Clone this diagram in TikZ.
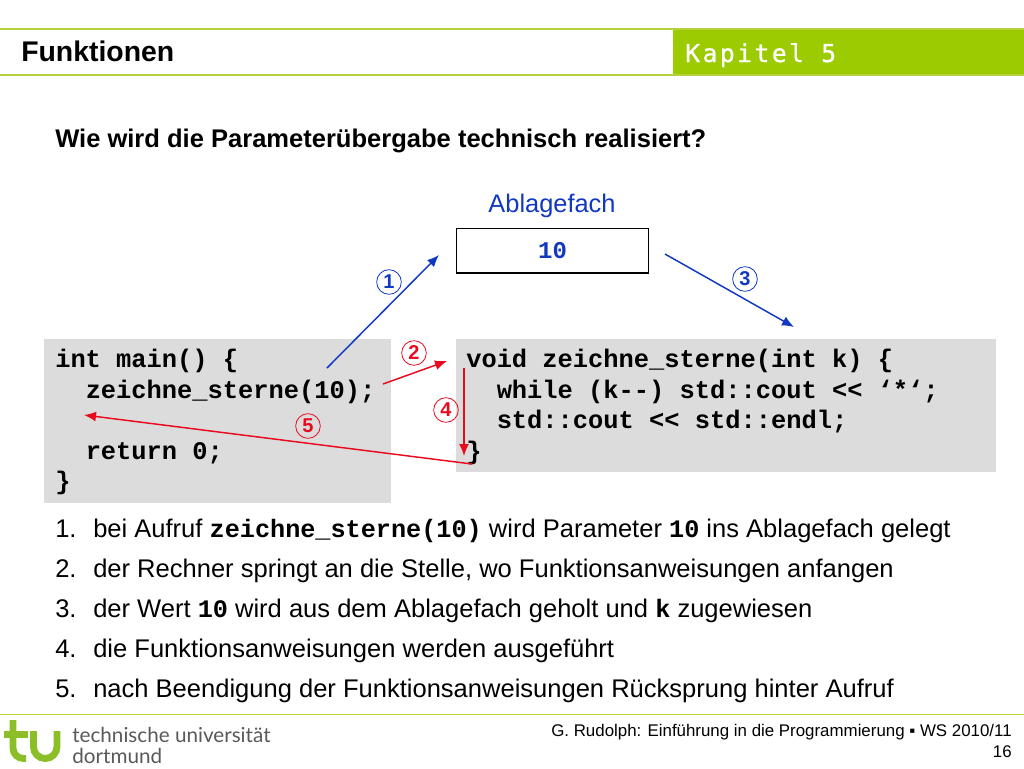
\documentclass[tikz,border=0pt]{standalone}
\usepackage{fontspec}
\usetikzlibrary{arrows.meta}
\setmainfont{Liberation Sans}
\newfontfamily\codefont{Liberation Mono}[BoldFont={Liberation Mono Bold}]
\newfontfamily\kapfont{DejaVu Sans Mono}[LetterSpace=10,FakeBold=0.8]
\newfontfamily\tufont{Lato}
\definecolor{tugreen}{HTML}{9BCB00}
\definecolor{linegreen}{HTML}{B4D23C}
\definecolor{logogreen}{HTML}{8CBE28}
\definecolor{codegray}{HTML}{DCDCDC}
\definecolor{arrowblue}{HTML}{1038C0}
\definecolor{arrowred}{HTML}{EA0A20}
\newcommand{\inlinecode}[1]{{\codefont\bfseries\fontsize{18.9}{20}\selectfont #1}}
\tikzset{
    codebox/.style={fill=codegray, anchor=north west, inner sep=0pt, outer sep=0pt},
    codeline/.style={anchor=base west, inner sep=0pt, font=\codefont\bfseries\fontsize{19.05}{23}\selectfont},
    listtext/.style={anchor=base west, inner sep=0pt, font=\fontsize{19.15}{22}\selectfont},
    circnum/.style={circle, draw, line width=0.6pt, inner sep=0pt, minimum size=18.5pt,
        font=\bfseries\fontsize{15}{15}\selectfont},
    bluearrow/.style={-{Latex[length=9pt,width=7.5pt]}, arrowblue, line width=1.1pt},
    redarrow/.style={-{Latex[length=9pt,width=7.5pt]}, arrowred, line width=1.1pt},
    tustroke/.style={draw=logogreen, line width=5.2pt}
}
\begin{document}
\begin{tikzpicture}[x=0.75pt,y=-0.75pt]
    \useasboundingbox (0,0) rectangle (1024,768);

    % header
    \fill[tugreen] (673,29) rectangle (1024,75);
    \draw[linegreen, line width=1.3pt] (0,29) -- (1024,29);
    \draw[linegreen, line width=1.3pt] (0,75) -- (1024,75);
    \node[anchor=base west, inner sep=0pt, font=\bfseries\fontsize{21.3}{24}\selectfont] (title) at (21,61) {Funktionen};
    \node[anchor=base west, inner sep=0pt, text=white, font=\kapfont\fontsize{18.5}{22}\selectfont] (chapter) at (685,62) {Kapitel 5};

    \node[anchor=base west, inner sep=0pt, font=\bfseries\fontsize{19.15}{21}\selectfont] (question) at (55,147) {Wie wird die Parameterübergabe technisch realisiert?};

    % storage box
    \node[anchor=base, inner sep=0pt, text=arrowblue, font=\fontsize{19.05}{22}\selectfont] (fachlabel) at (552,212) {Ablagefach};
    \node[draw, line width=1pt, minimum width=144pt, minimum height=33.5pt, inner sep=0pt, text=arrowblue,
        font=\codefont\bfseries\fontsize{18}{20}\selectfont] (fach) at (552.5,250.5) {10};

    % code
    \node[codebox, minimum width=260.25pt, minimum height=123pt] (mainbox) at (44,339) {};
    \node[codebox, minimum width=405pt, minimum height=100pt] (funcbox) at (456,339) {};
    \foreach \y/\txt [count=\i] in {367/{int main() \{}, 398/{\ \ zeichne\_sterne(10);}, 459/{\ \ return 0;}, 489/{\}}}
        \node[codeline] (mainline\i) at (55,\y) {\txt};
    \foreach \y/\txt [count=\i] in {367/{void zeichne\_sterne(int k) \{}, 398/{\ \ while (k--) std::cout << ‘*‘;}, 428/{\ \ std::cout << std::endl;}, 459/{\}}}
        \node[codeline] (funcline\i) at (466,\y) {\txt};

    % arrows
    \coordinate (a1s) at (327,368);
    \coordinate (a1e) at (439,255);
    \coordinate (a2s) at (383,384);
    \coordinate (a2e) at (447,361);
    \coordinate (a3s) at (665,254);
    \coordinate (a3e) at (794,327);
    \coordinate (a4s) at (464,368);
    \coordinate (a4e) at (464,456);
    \coordinate (a5s) at (472,464);
    \coordinate (a5e) at (84,415);
    \draw[bluearrow] (a1s) -- (a1e);
    \draw[redarrow] (a2s) -- (a2e);
    \draw[bluearrow] (a3s) -- (a3e);
    \draw[redarrow] (a4s) -- (a4e);
    \draw[redarrow] (a5s) -- (a5e);

    \node[circnum, arrowblue] (n1) at (389,282) {1};
    \node[circnum, arrowred] (n2) at (414,353) {2};
    \node[circnum, arrowblue] (n3) at (745,279) {3};
    \node[circnum, arrowred] (n4) at (446,410) {4};
    \node[circnum, arrowred] (n5) at (308,426) {5};

    % list
    \foreach \y/\txt [count=\i] in {
        537/{bei Aufruf \inlinecode{zeichne\_sterne(10)} wird Parameter \inlinecode{10} ins Ablagefach gelegt},
        577/{der Rechner springt an die Stelle, wo Funktionsanweisungen anfangen},
        617/{der Wert \inlinecode{10} wird aus dem Ablagefach geholt und \inlinecode{k} zugewiesen},
        657/{die Funktionsanweisungen werden ausgeführt},
        697/{nach Beendigung der Funktionsanweisungen Rücksprung hinter Aufruf}} {
        \node[listtext] (num\i) at (55,\y) {\i.};
        \node[listtext] (item\i) at (93,\y) {\txt};
    }

    % footer
    \draw[linegreen, line width=1.3pt] (0,714.5) -- (1024,714.5);
    \draw[tustroke] (4,734.5) -- (28,734.5);
    \draw[tustroke] (13,720) -- (13,748) arc[start angle=180, end angle=90, radius=10.5] -- (26,758.5);
    \draw[tustroke] (33.5,731) -- (33.5,746.75) arc[start angle=180, end angle=0, radius=11.75] -- (57,731);
    \node[anchor=base west, inner sep=0pt, text=black!65, font=\tufont\fontsize{15.5}{17}\selectfont] (tuname) at (72,742) {technische universität};
    \node[anchor=base west, inner sep=0pt, text=black!65, font=\tufont\fontsize{15.5}{17}\selectfont] (tucity) at (72,763) {dortmund};
    \node[anchor=base east, inner sep=0pt, font=\fontsize{12.66}{14}\selectfont] (footer) at (1012,736) {G. Rudolph: Einführung in die Programmierung ▪ WS 2010/11};
    \node[anchor=base east, inner sep=0pt, font=\fontsize{12.66}{14}\selectfont] (pagenum) at (1012,757) {16};
\end{tikzpicture}
\end{document}
